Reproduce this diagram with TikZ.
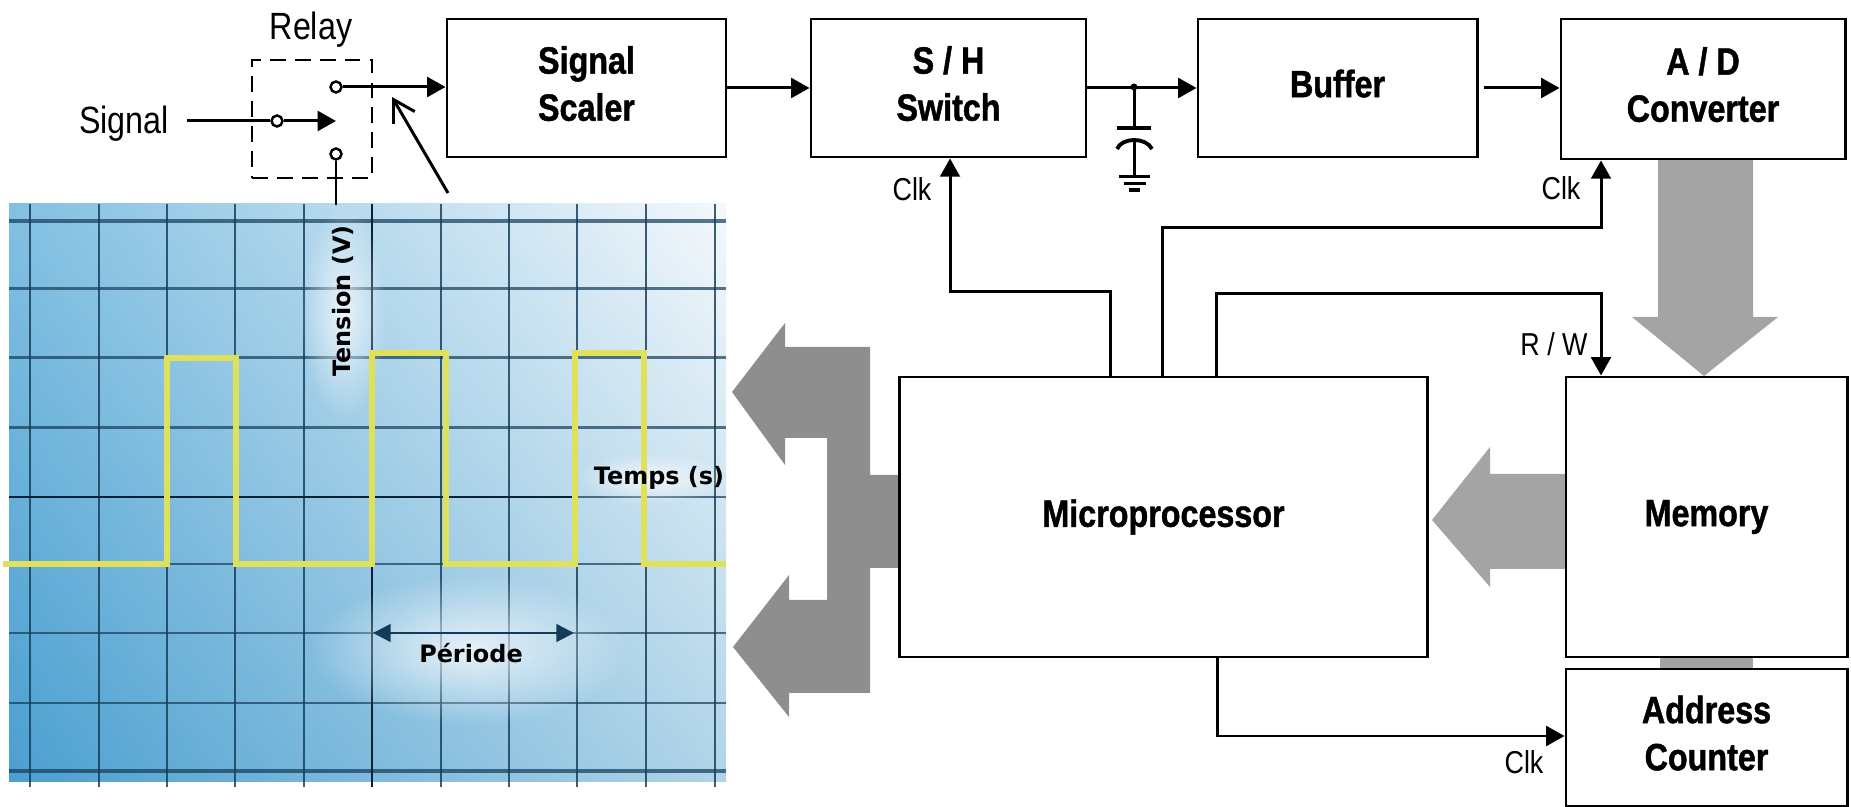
\documentclass[tikz,border=0pt]{standalone}
\usepackage{fontspec}
\usetikzlibrary{arrows.meta,shadings,fadings}
\newfontfamily\labelfont[FakeStretch=0.85,BoldFeatures={FakeBold=1.2}]{Liberation Sans}
\newfontfamily\scopefont{DejaVu Sans}
\definecolor{busgray}{HTML}{8E8E8E}
\definecolor{memgray}{HTML}{A4A4A4}
\definecolor{gridblue}{HTML}{143C58}
\definecolor{axisblue}{HTML}{0A2235}
\definecolor{tracegold}{HTML}{DFE05C}
\definecolor{screenLL}{HTML}{4A9FD0}
\definecolor{screenLR}{HTML}{B0D4E8}
\definecolor{screenUL}{HTML}{82C0E2}
\definecolor{screenUR}{HTML}{F4F8FB}
\tikzfading[name=softpatch,inner color=transparent!25,outer color=transparent!100]
\tikzset{
  blockbox/.style={draw,line width=0.8pt,fill=white,inner sep=0pt,align=center,
    font=\labelfont\bfseries\fontsize{10.8}{13.4}\selectfont},
  raised/.style={text depth=2.6pt},
  plainlabel/.style={font=\labelfont\fontsize{10.8}{12}\selectfont},
  clklabel/.style={font=\labelfont\fontsize{9}{11}\selectfont},
  scopelabel/.style={font=\scopefont\bfseries\fontsize{6.8}{8}\selectfont,text=black},
  contact/.style={circle,draw,line width=0.7pt,fill=white,minimum size=0.11cm,inner sep=0pt},
  wire/.style={line width=0.85pt,-{Triangle[length=5.2pt,width=5.6pt]}},
  plainwire/.style={line width=0.85pt},
  gridline/.style={gridblue,line width=0.65pt,opacity=0.82},
  gridrow/.style={gridblue,line width=0.85pt,opacity=0.7},
  haze/.style={fill=white,path fading=softpatch},
}
\begin{document}
\begin{tikzpicture}[x=0.01cm,y=-0.01cm,auto,swap]
    \useasboundingbox (0,0) rectangle (1851,807);
    % Scope screen
    \shade[lower left=screenLL,lower right=screenLR,upper left=screenUL,upper right=screenUR]
      (9,204) rectangle (726,782);
    % Grid
    \draw[gridline] (30,204) -- (30,787);
    \draw[gridline] (99,204) -- (99,787);
    \draw[gridline] (167,204) -- (167,787);
    \draw[gridline] (235,204) -- (235,787);
    \draw[gridline] (304,204) -- (304,787);
    \draw[gridline] (441,204) -- (441,787);
    \draw[gridline] (509,204) -- (509,787);
    \draw[gridline] (577,204) -- (577,787);
    \draw[gridline] (646,204) -- (646,787);
    \draw[gridline] (715,204) -- (715,787);
    \draw[gridrow,line width=1.1pt] (9,221) -- (726,221);
    \draw[gridrow] (9,289) -- (726,289);
    \draw[gridrow] (9,358) -- (726,358);
    \draw[gridrow] (9,428) -- (726,428);
    \draw[gridrow] (577,497) -- (726,497);
    \draw[gridrow] (9,564) -- (726,564);
    \draw[gridrow] (9,633) -- (726,633);
    \draw[gridrow] (9,703) -- (726,703);
    \draw[gridrow,line width=1.1pt] (9,771) -- (726,771);
    \draw[axisblue,line width=0.85pt] (9,497) -- (577,497);
    \draw[axisblue,line width=0.8pt] (372,204) -- (372,787);
    % Light patches behind the scope texts
    \fill[haze] (310,575) rectangle (630,725);
    \fill[haze] (300,205) rectangle (386,420);
    \fill[haze] (575,452) rectangle (726,504);
    % Trace
    \draw[tracegold,line width=1.8pt] (3,564) -- (167,564) -- (167,358) -- (236,358)
      -- (236,564) -- (372,564) -- (372,353) -- (446,353) -- (446,564)
      -- (575,564) -- (575,353) -- (644,353) -- (644,564) -- (726,564);
    % Scope labels
    \node (tension) at (343,301) [scopelabel,rotate=90] {Tension (V)};
    \node (temps) at (659,478) [scopelabel] {Temps (s)};
    \node (periode) at (471,653) [scopelabel] {Période};
    \coordinate (periodL) at (373,633);
    \coordinate (periodR) at (574,633);
    \draw[{Triangle[length=5pt,width=5pt]}-{Triangle[length=5pt,width=5pt]},gridblue,line width=0.7pt] (periodL) -- (periodR);
    % Wide buses
    \fill[busgray] (732,392) -- (785,323) -- (785,347) -- (870,347) -- (870,475) -- (900,475)
      -- (900,568) -- (870,568) -- (870,693) -- (789,693) -- (789,717) -- (733,647)
      -- (789,575) -- (789,600) -- (827,600) -- (827,438) -- (785,438) -- (785,465) -- cycle;
    \fill[memgray] (1658,159) -- (1753,159) -- (1753,317) -- (1778,317) -- (1704,376)
      -- (1632,317) -- (1658,317) -- cycle;
    \fill[memgray] (1432,520) -- (1490,447) -- (1490,474) -- (1566,474) -- (1566,569)
      -- (1490,569) -- (1490,587) -- cycle;
    \fill[memgray] (1660,657) rectangle (1753,669);
    % Nodes
    \node (scaler) at (586.5,88) [blockbox,raised,minimum width=2.79cm,minimum height=1.38cm] {Signal\\Scaler};
    \node (sh) at (948.5,88) [blockbox,raised,minimum width=2.75cm,minimum height=1.38cm] {S / H\\Switch};
    \node (buffer) at (1337.5,88) [blockbox,raised,minimum width=2.79cm,minimum height=1.38cm] {Buffer};
    \node (adc) at (1703,89) [blockbox,raised,minimum width=2.84cm,minimum height=1.40cm] {A / D\\Converter};
    \node (micro) at (1163.5,517) [blockbox,minimum width=5.27cm,minimum height=2.80cm] {Microprocessor};
    \node (memory) at (1706.5,517) [blockbox,minimum width=2.81cm,minimum height=2.80cm] {Memory};
    \node (counter) at (1706.5,737.5) [blockbox,raised,minimum width=2.81cm,minimum height=1.37cm] {Address\\Counter};
    % Relay
    \node (relaybox) at (312,119) [draw,dash pattern=on 4.5pt off 2.6pt,line width=0.8pt,minimum width=1.20cm,minimum height=1.18cm] {};
    \node (relay) at (311,30) [plainlabel] {Relay};
    \node (signal) at (124,124) [plainlabel] {Signal};
    \node (contactT) at (336,87) [contact] {};
    \node (contactM) at (277,121) [contact] {};
    \node (contactB) at (336,154) [contact] {};
    \coordinate (wiper) at (336,121);
    \coordinate (screentop) at (336,205);
    \coordinate (pointerS) at (448,193);
    \coordinate (pointerE) at (392,97);
    % Small labels
    \node (clkSH) at (912,189) [clklabel] {Clk};
    \node (clkADC) at (1561,188) [clklabel] {Clk};
    \node (rw) at (1554,344) [clklabel] {R / W};
    \node (clkCNT) at (1524,762) [clklabel] {Clk};
    % Bends
    \coordinate (clkA) at (1110,292);
    \coordinate (clkB) at (950,292);
    \coordinate (clkC) at (1162,228);
    \coordinate (clkD) at (1601,228);
    \coordinate (rwA) at (1216,294);
    \coordinate (rwB) at (1601,294);
    \coordinate (cntA) at (1217,736);
    % Edges
    \path[plainwire,shorten <=0.06cm] (signal.east |- contactM) edge node {} (contactM);
    \path[wire] (contactM) edge node {} (wiper);
    \path[wire] (contactT) edge node {} (scaler.west |- contactT);
    \path[plainwire] (contactB) edge node {} (screentop);
    \path[line width=0.85pt,-{Straight Barb[length=6pt,width=7pt]}] (pointerS) edge node {} (pointerE);
    \path[wire] (scaler.east) edge node {} (sh.west);
    \path[wire] (sh.east) edge node {} (buffer.west);
    \path[wire,shorten <=0.05cm] (buffer.east) edge node {} (adc.west |- buffer.east);
    \draw[wire] (clkA |- micro.north) -- (clkA) -- (clkB) -- (clkB |- sh.south);
    \draw[wire] (clkC |- micro.north) -- (clkC) -- (clkD) -- (clkD |- adc.south);
    \draw[wire] (rwA |- micro.north) -- (rwA) -- (rwB) -- (rwB |- memory.north);
    \draw[wire] (cntA |- micro.south) -- (cntA) -- (cntA -| counter.west);
    % Capacitor
    \coordinate (capJ) at (1134,87);
    \coordinate (capP) at (1134,128);
    \coordinate (capQ) at (1134,141);
    \coordinate (gnd) at (1134,177);
    \fill (capJ) circle (3.5);
    \path[plainwire] (capJ) edge node {} (capP);
    \path[plainwire] (capQ) edge node {} (gnd);
    \draw[line width=1.1pt] (1117,128) -- (1151,128);
    \draw[line width=1.1pt] (1117,149) .. controls (1122,137) and (1146,137) .. (1152,149);
    \draw[plainwire] (1119,177) -- (1150,177);
    \draw[plainwire] (1124,184) -- (1146,184);
    \draw[line width=1.1pt] (1129,190) -- (1140,190);
\end{tikzpicture}
\end{document}
